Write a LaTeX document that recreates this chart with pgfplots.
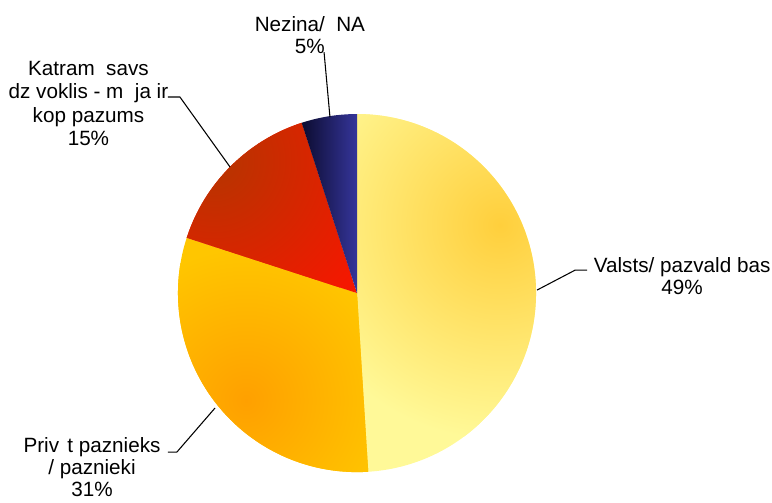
\documentclass[border=0pt]{standalone}
\usepackage{fontspec}
\setmainfont{Liberation Sans}
\usepackage{pgfplots}
\usepackage{pgfplotstable}
\pgfplotsset{compat=1.18}
\definecolor{valLight}{HTML}{FFF998}
\definecolor{valGold}{HTML}{FFCF3C}
\definecolor{prvBase}{HTML}{FFC600}
\definecolor{prvOrange}{HTML}{FFA000}
\definecolor{katBase}{HTML}{F41800}
\definecolor{katDark}{HTML}{B53500}
\definecolor{naDark}{HTML}{0C0C30}
\definecolor{naLight}{HTML}{35359A}
\tikzset{lbl/.style={font=\fontsize{15.5}{16.5}\selectfont, align=center, inner sep=0pt, anchor=north}}

\pgfplotstableread{
share
49
31
15
5
}\pietable

\begin{document}
\begin{tikzpicture}
\pgfplotstablegetelem{0}{share}\of\pietable \let\vA\pgfplotsretval
\pgfplotstablegetelem{1}{share}\of\pietable \let\vB\pgfplotsretval
\pgfplotstablegetelem{2}{share}\of\pietable \let\vC\pgfplotsretval
\pgfplotstablegetelem{3}{share}\of\pietable \let\vD\pgfplotsretval
\pgfmathsetmacro{\aA}{90}
\pgfmathsetmacro{\aB}{\aA-3.6*\vA}
\pgfmathsetmacro{\aC}{\aB-3.6*\vB}
\pgfmathsetmacro{\aD}{\aC-3.6*\vC}
\pgfmathsetmacro{\aE}{\aD-3.6*\vD}
\def\R{134.25pt}
\begin{axis}[
  x=134.25pt, y=134.25pt,
  xmin=-1.994, xmax=2.318, ymin=-1.168, ymax=1.637,
  hide axis, clip=false,
]
\path (axis cs:-1.994,-1.168) rectangle (axis cs:2.318,1.637);
% Valsts
\begin{scope}
\clip (axis cs:0,0) -- (axis cs:{cos(\aA)},{sin(\aA)}) arc[start angle=\aA, end angle=\aB, radius=\R] -- cycle;
\fill[valLight, overlay] (axis cs:-1,-1) rectangle (axis cs:1.1,1.1);
\shade[overlay, inner color=valGold, outer color=valLight] (axis cs:0.8,0.38) circle[radius=1.2*\R];
\end{scope}
% Privat
\begin{scope}
\clip (axis cs:0,0) -- (axis cs:{cos(\aB)},{sin(\aB)}) arc[start angle=\aB, end angle=\aC, radius=\R] -- cycle;
\fill[prvBase, overlay] (axis cs:-1.1,-1.1) rectangle (axis cs:1.1,1.1);
\shade[overlay, inner color=prvOrange, outer color=prvBase] (axis cs:-0.62,-0.6) circle[radius=0.85*\R];
\end{scope}
% Katram
\begin{scope}
\clip (axis cs:0,0) -- (axis cs:{cos(\aC)},{sin(\aC)}) arc[start angle=\aC, end angle=\aD, radius=\R] -- cycle;
\fill[katBase, overlay] (axis cs:-1.1,-1.1) rectangle (axis cs:1.1,1.1);
\shade[overlay, inner color=katDark, outer color=katBase] (axis cs:-0.8,0.74) circle[radius=1.0*\R];
\end{scope}
% NA
\shade[left color=naDark, right color=naLight] (axis cs:0,0) -- (axis cs:{cos(\aD)},{sin(\aD)}) arc[start angle=\aD, end angle=\aE, radius=\R] -- cycle;

% leader lines
\draw[black, line width=0.8pt] (axis cs:-0.151,0.983) -- (axis cs:-0.184,1.346);
\draw[black, line width=0.8pt] (axis cs:-0.709,0.704) -- (axis cs:-0.989,1.095) -- (axis cs:-1.056,1.095);
\draw[black, line width=0.8pt] (axis cs:1.006,0.017) -- (axis cs:1.218,0.128) -- (axis cs:1.285,0.128);
\draw[black, line width=0.8pt] (axis cs:-0.793,-0.642) -- (axis cs:-1.006,-0.888) -- (axis cs:-1.056,-0.888);

% labels
\node[lbl] at (axis cs:-0.263,1.547) {Nezina/\ \ NA\\5\%};
\node[lbl, font=\fontsize{15.5}{17.5}\selectfont] at (axis cs:-1.5,1.296) {Katram\ \ savs\\dz voklis - m\ \ ja ir\\kop pazums\\15\%};
\node[lbl] at (axis cs:1.816,0.201) {Valsts/ pazvald bas\\49\%};
\node[lbl] at (axis cs:-1.48,-0.805) {Priv\hspace{0.4em}t paznieks\\/ paznieki\\31\%};
\end{axis}
\end{tikzpicture}
\end{document}
